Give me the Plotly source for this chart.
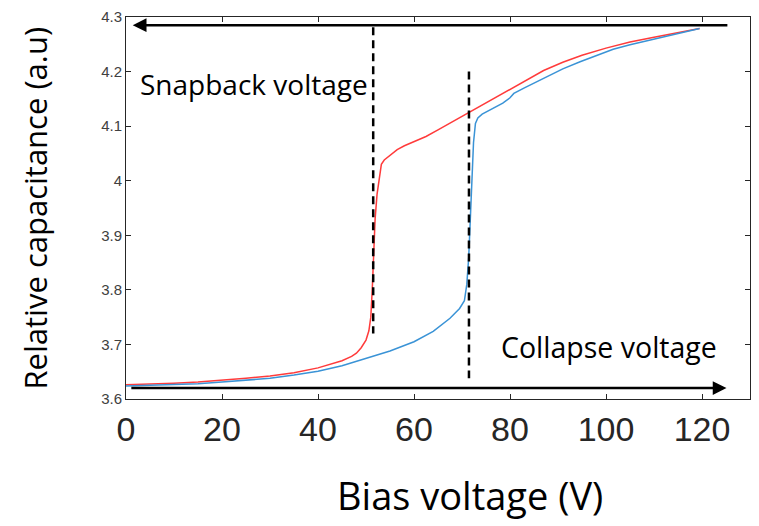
import plotly.graph_objects as go

# ---- data ----
red_v = [0, 5, 10, 15, 20, 25, 30, 35, 40, 43, 45, 47, 48, 49, 50, 50.6, 51.0, 51.3, 51.6, 51.9,
         52.3, 52.8, 53.2, 53.8, 54.5, 55.5, 56.5, 58, 60, 62.5, 65, 68, 71.5, 75, 79, 83, 87,
         91, 95, 100, 105, 110, 115, 119.5]
red_c = [3.626, 3.627, 3.629, 3.631, 3.634, 3.638, 3.642, 3.648, 3.657, 3.664, 3.670, 3.678,
         3.684, 3.694, 3.708, 3.725, 3.750, 3.800, 3.870, 3.930, 3.975, 4.010, 4.030, 4.038,
         4.043, 4.050, 4.057, 4.064, 4.071, 4.081, 4.093, 4.108, 4.125, 4.142, 4.162, 4.182,
         4.202, 4.217, 4.230, 4.243, 4.254, 4.263, 4.272, 4.279]

blue_v = [0, 5, 10, 15, 20, 25, 30, 35, 40, 45, 50, 55, 60, 64, 67.5, 69.5, 70.5, 71.0, 71.4,
          71.7, 72.0, 72.4, 72.8, 73.3, 74.2, 75.5, 77, 78.5, 80, 80.8, 83, 87.6, 91, 94.6, 98,
          101.5, 105, 108.5, 112, 115.4, 119.5]
blue_c = [3.624, 3.625, 3.627, 3.628, 3.631, 3.634, 3.638, 3.644, 3.651, 3.661, 3.674, 3.688,
          3.705, 3.724, 3.748, 3.766, 3.780, 3.81, 3.86, 3.93, 4.00, 4.070, 4.105, 4.115, 4.122,
          4.128, 4.134, 4.142, 4.152, 4.160, 4.170, 4.191, 4.205, 4.218, 4.230, 4.241, 4.249,
          4.256, 4.264, 4.271, 4.279]

x_ticks = [0, 20, 40, 60, 80, 100, 120]
y_ticks = [3.6, 3.7, 3.8, 3.9, 4.0, 4.1, 4.2, 4.3]
y_tick_text = ["3.6", "3.7", "3.8", "3.9", "4", "4.1", "4.2", "4.3"]

# marker lines: snapback and collapse voltages (V, from C, to C)
snapback = [51.5, 4.281, 3.720]
collapse = [71.45, 4.200, 3.638]
# sweep arrows: (from V, to V, at C)
sweep_down = [125.6, 1.4, 4.285]
sweep_up = [0.8, 125.1, 3.620]

fig = go.Figure()
fig.add_trace(go.Scatter(x=red_v, y=red_c, mode="lines",
                         line=dict(color="#ff3b3b", width=1.5), showlegend=False))
fig.add_trace(go.Scatter(x=blue_v, y=blue_c, mode="lines",
                         line=dict(color="#3a93d6", width=1.5), showlegend=False))

for v, c0, c1 in (snapback, collapse):
    fig.add_trace(go.Scatter(x=[v, v], y=[c0, c1], mode="lines",
                             line=dict(color="black", width=2.5, dash="8px,5px"),
                             showlegend=False))

for a in (sweep_down, sweep_up):
    fig.add_annotation(x=a[1], y=a[2], ax=a[0], ay=a[2], xref="x", yref="y",
                       axref="x", ayref="y", text="", showarrow=True,
                       arrowhead=2, arrowsize=1.1, arrowwidth=2.5, arrowcolor="black")

fig.add_annotation(x=2.6, y=4.178, xref="x", yref="y", text="Snapback voltage",
                   showarrow=False, xanchor="left", yanchor="middle",
                   font=dict(family="Open Sans", size=28, color="black"))
fig.add_annotation(x=77.8, y=3.695, xref="x", yref="y", text="Collapse voltage",
                   showarrow=False, xanchor="left", yanchor="middle",
                   font=dict(family="Open Sans", size=28.5, color="black"))

fig.add_annotation(x=0.552, y=-0.251, xref="paper", yref="paper", text="Bias voltage (V)",
                   showarrow=False, xanchor="center", yanchor="middle",
                   font=dict(family="Open Sans", size=38, color="black"))
fig.add_annotation(x=-0.1466, y=0.5, xref="paper", yref="paper",
                   text="Relative capacitance (a.u)", textangle=-90,
                   showarrow=False, xanchor="center", yanchor="middle",
                   font=dict(family="Open Sans", size=31, color="black"))

axis_common = dict(showgrid=False, zeroline=False, showline=True, linecolor="#262626",
                   linewidth=1, mirror="ticks", ticks="inside", ticklen=5,
                   tickcolor="#262626", tickwidth=1)

fig.update_xaxes(range=[0, 130], tickvals=x_ticks,
                 tickfont=dict(family="Arial", size=34, color="#262626"), **axis_common)
fig.update_yaxes(range=[3.6, 4.3], tickvals=y_ticks, ticktext=y_tick_text,
                 tickfont=dict(family="Arial", size=15, color="#404040"), **axis_common)

fig.update_layout(width=759, height=526, margin=dict(l=126, r=8, t=9, b=127),
                  plot_bgcolor="white", paper_bgcolor="white")

fig.write_html("out.html")
